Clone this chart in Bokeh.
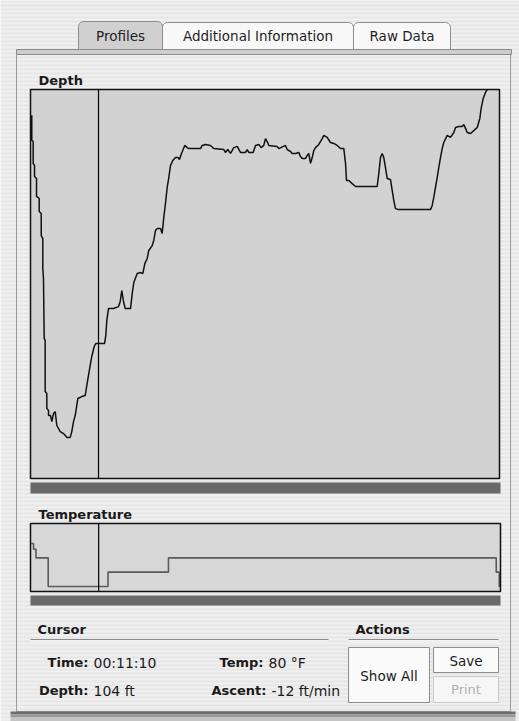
import numpy as np
from bokeh.plotting import figure
from bokeh.models import Range1d
from bokeh.core.properties import value
from bokeh.embed import file_html
from bokeh.resources import INLINE

# ---------------- data ----------------
depth_time_min = [0.21, 0.21, 0.44, 0.44, 0.66, 0.66, 0.99, 0.99, 1.43, 1.43, 1.76, 1.76,
                  2.02, 2.02, 2.13, 2.25, 2.41, 2.41, 2.68, 2.68, 2.96, 2.96, 3.28, 3.50,
                  3.78, 4.06, 4.32, 4.88, 5.42, 6.00, 6.52, 6.78, 7.06, 7.34, 7.77, 8.42,
                  8.98, 9.24, 9.52, 9.80, 10.06, 10.46, 10.72, 12.15, 12.36, 12.53, 12.81,
                  13.63, 14.45, 14.73, 14.99, 15.27, 15.55, 16.42, 16.70, 16.96, 17.52,
                  18.06, 18.44, 18.77, 19.16, 19.42, 19.98, 20.24, 20.52, 20.80, 21.34,
                  21.62, 21.88, 22.16, 22.44, 22.71, 22.98, 23.36, 23.81, 24.25, 24.46,
                  24.79, 25.33, 25.73, 25.99, 27.91, 28.19, 28.73, 29.55, 30.09, 31.74,
                  32.01, 32.39, 32.84, 33.38, 33.94, 34.48, 35.30, 35.58, 35.84, 36.56,
                  36.94, 37.48, 37.88, 38.30, 38.58, 38.86, 39.12, 40.50, 40.76, 41.86,
                  42.14, 42.69, 42.96, 43.51, 44.05, 44.33, 44.61, 45.15, 45.43, 45.69,
                  45.97, 46.25, 46.51, 46.79, 47.33, 47.89, 48.15, 48.71, 49.25, 49.80,
                  50.35, 50.89, 51.44, 51.72, 51.88, 52.26, 52.82, 53.36, 56.92, 57.18,
                  57.46, 57.74, 58.00, 58.28, 58.56, 59.10, 59.38, 59.65, 59.92, 60.47,
                  65.67, 65.95, 66.21, 66.49, 66.77, 67.03, 67.31, 67.59, 67.85, 68.41,
                  68.95, 69.50, 69.78, 70.32, 70.88, 71.14, 71.42, 71.70, 72.24, 72.78,
                  73.34, 73.77, 73.99, 74.32, 74.70, 74.98]
depth_ft = [10.6, 20.9, 21.4, 30.4, 31.3, 35.8, 36.6, 44.0, 44.8, 50.2, 51.0, 60.1,
            61.3, 73.6, 77.7, 102.4, 103.2, 124.2, 125.1, 131.2, 132.0, 134.1, 134.1, 136.6,
            133.3, 132.5, 138.2, 140.7, 141.5, 143.1, 143.1, 140.7, 136.6, 134.1, 127.1, 126.3,
            125.9, 121.8, 117.6, 113.5, 109.8, 105.7, 104.5, 104.5, 101.2, 95.0, 90.1,
            90.1, 89.3, 87.2, 82.7, 87.2, 90.1, 90.1, 83.9, 79.4, 75.7,
            75.3, 75.7, 71.6, 69.5, 66.2, 64.2, 62.1, 58.0, 57.2, 57.2,
            59.2, 52.7, 46.9, 40.3, 36.2, 31.3, 29.2, 28.0, 28.0, 28.8,
            26.3, 23.0, 23.9, 24.3, 24.3, 23.0, 22.6, 23.0, 24.3, 24.7,
            25.9, 24.7, 26.3, 23.9, 23.4, 25.9, 25.9, 24.7, 25.9, 25.9,
            23.0, 22.6, 23.9, 23.0, 20.2, 21.4, 23.0, 23.4, 24.3, 23.0,
            24.7, 25.5, 26.3, 26.3, 25.9, 27.6, 28.4, 28.4, 27.1, 26.3,
            30.4, 28.0, 25.1, 23.9, 22.6, 20.2, 18.9, 19.7, 21.8, 22.2,
            23.0, 24.3, 24.3, 30.4, 37.4, 37.4, 38.7, 39.9, 39.9, 34.6,
            28.0, 26.3, 28.0, 32.1, 36.6, 37.0, 41.5, 45.7, 49.0, 49.4,
            49.4, 47.7, 44.4, 40.3, 36.2, 32.1, 28.0, 24.3, 21.8, 18.9,
            19.7, 17.7, 15.6, 15.2, 15.2, 14.4, 16.0, 17.7, 18.1, 16.9,
            15.6, 11.9, 7.8, 3.7, 1.2, 0.0]

temp_time_min = [0.1, 0.5, 0.9, 2.9, 12.7, 22.6, 76.3, 76.8, 77.0]
temp_f = [83, 82.6, 82, 80, 81, 82, 81, 80, 80]

dive_minutes = 77.0
depth_axis_max_ft = 160.0
temp_axis_top_f = 84.4
temp_axis_bottom_f = 79.65
cursor_time_min = 11 + 10 / 60  # 00:11:10

tab_labels = ["Profiles", "Additional Information", "Raw Data"]
cursor_labels = ["Time:", "Depth:", "Temp:", "Ascent:"]
cursor_values = ["00:11:10", "104 ft", "80 \u00b0F", "-12 ft/min"]

# ---------------- layout (page pixels) ----------------
W, H = 519, 721
DEPTH_BOX = (30, 499, 89, 478)     # left, right, top, bottom
TEMP_BOX = (30, 500, 523, 591)
FONT = value("DejaVu Sans")


def mapped(px_lo, px_hi, v_lo, v_hi, full_start, full_end):
    k = (v_hi - v_lo) / (px_hi - px_lo)
    return Range1d(start=v_lo + (full_start - px_lo) * k, end=v_lo + (full_end - px_lo) * k)


def tab_shape(l, r, t, b, rad=5):
    ang = np.linspace(np.pi, np.pi / 2, 6)
    xs = [l] + list(l + rad + rad * np.cos(ang)) + list(r - rad - rad * np.cos(ang[::-1])) + [r]
    ys = [b] + list(t + rad - rad * np.sin(ang)) + list(t + rad - rad * np.sin(ang[::-1])) + [b]
    return xs, ys


p = figure(width=W, height=H, x_range=Range1d(0, W), y_range=Range1d(H, 0),
           output_backend="svg", toolbar_location=None, x_axis_type=None, y_axis_type=None,
           min_border=0, outline_line_color=None, background_fill_color="#f1f1f1",
           border_fill_color="#f1f1f1")
p.xgrid.visible = False
p.ygrid.visible = False

p.extra_x_ranges = {
    "dt": mapped(DEPTH_BOX[0], DEPTH_BOX[1], 0, dive_minutes, 0, W),
    "tt": mapped(TEMP_BOX[0], TEMP_BOX[1], 0, dive_minutes, 0, W),
}
p.extra_y_ranges = {
    "dd": mapped(DEPTH_BOX[2], DEPTH_BOX[3], 0, depth_axis_max_ft, H, 0),
    "tv": mapped(TEMP_BOX[2], TEMP_BOX[3], temp_axis_top_f, temp_axis_bottom_f, H, 0),
}

# pinstripe background
sy = np.arange(0, H, 4)
p.quad(left=0, right=W, top=sy, bottom=sy + 2, fill_color="#e6e6e6", line_color=None)

# panel
p.quad(left=[16], right=[510], top=[54], bottom=[711], fill_alpha=0, line_color="#9a9a9a", line_width=1)
p.quad(left=[16], right=[511], top=[49], bottom=[54], fill_color="#cdcdcd", line_color="#8a8a8a", line_width=1)
p.quad(left=[10, 10, 10], right=[515, 515, 515], top=[711, 714, 717], bottom=[714, 717, 721],
       fill_color=["#6e6e6e", "#9a9a9a", "#c4c4c4"], line_color=None)

# tabs
tab_l = [78, 162, 353]
tab_r = [162, 353, 450]
tab_t = [21, 22, 22]
tab_fill = ["#d0d0d0", "#f8f8f8", "#f8f8f8"]
shapes = [tab_shape(l, r, t, 49) for l, r, t in zip(tab_l, tab_r, tab_t)]
p.patches(xs=[s[0] for s in shapes], ys=[s[1] for s in shapes], fill_color=tab_fill,
          line_color="#8c8c8c", line_width=1)
p.text(x=[(a + b) / 2 for a, b in zip(tab_l, tab_r)], y=[35, 35, 35], text=tab_labels,
       text_font=FONT, text_font_size="13.5px", text_align="center", text_baseline="middle",
       text_color="#1e1e1e")

# section headers
p.text(x=[38, 38, 37, 355], y=[80, 514, 629, 629], text=["Depth", "Temperature", "Cursor", "Actions"],
       text_font=FONT, text_font_style="bold", text_font_size="13px", text_baseline="middle",
       text_color="#1a1a1a")

# plot frames
for (l, r, t, b), fill in ((DEPTH_BOX, "#d2d2d2"), (TEMP_BOX, "#d7d7d7")):
    p.quad(left=[l], right=[r], top=[t], bottom=[b], fill_color=fill, line_color=None)

# dark scroll bars
p.quad(left=[30, 30], right=[500, 500], top=[482, 595], bottom=[493, 605],
       fill_color="#696969", line_color=None)

# data
p.line(depth_time_min, depth_ft, x_range_name="dt", y_range_name="dd",
       line_color="#111111", line_width=1.5)
p.step(temp_time_min, temp_f, mode="after", x_range_name="tt", y_range_name="tv",
       line_color="#5a5a5a", line_width=1.6)

# cursor lines
p.segment(x0=[cursor_time_min], y0=[0], x1=[cursor_time_min], y1=[depth_axis_max_ft],
          x_range_name="dt", y_range_name="dd", line_color="black", line_width=1.2)
p.segment(x0=[cursor_time_min], y0=[temp_axis_bottom_f], x1=[cursor_time_min], y1=[temp_axis_top_f],
          x_range_name="tt", y_range_name="tv", line_color="black", line_width=1.2)

# frame borders
for (l, r, t, b) in (DEPTH_BOX, TEMP_BOX):
    p.quad(left=[l], right=[r], top=[t], bottom=[b], fill_alpha=0, line_color="#111111", line_width=1.5)

# section underlines
p.segment(x0=[30, 348], y0=[639, 639], x1=[328, 498], y1=[639, 639], line_color="#8a8a8a", line_width=1)
p.segment(x0=[30, 348], y0=[640.5, 640.5], x1=[328, 498], y1=[640.5, 640.5], line_color="#fbfbfb", line_width=1)

# cursor readouts
p.text(x=[88, 88, 263, 266], y=[662, 690, 662, 690], text=cursor_labels, text_font=FONT,
       text_font_style="bold", text_font_size="13px", text_align="right", text_baseline="middle",
       text_color="#1a1a1a")
p.text(x=[93, 93, 268, 271], y=[662, 690, 662, 690], text=cursor_values, text_font=FONT,
       text_font_size="14px", text_align="left", text_baseline="middle", text_color="#1a1a1a")

# buttons
p.quad(left=[348, 433], right=[429, 498], top=[647, 647], bottom=[702, 672],
       fill_color="#fafafa", line_color="#8c8c8c", line_width=1)
p.quad(left=[433], right=[498], top=[676], bottom=[702], fill_color="#f6f6f6",
       line_color="#c8c8c8", line_width=1)
p.text(x=[388.5, 465.5], y=[675, 660], text=["Show All", "Save"], text_font=FONT,
       text_font_size="13.5px", text_align="center", text_baseline="middle", text_color="#1a1a1a")
p.text(x=[465.5], y=[689], text=["Print"], text_font=FONT, text_font_size="13px",
       text_align="center", text_baseline="middle", text_color="#b0b0b0")

open("out.html", "w").write(file_html(p, INLINE))
